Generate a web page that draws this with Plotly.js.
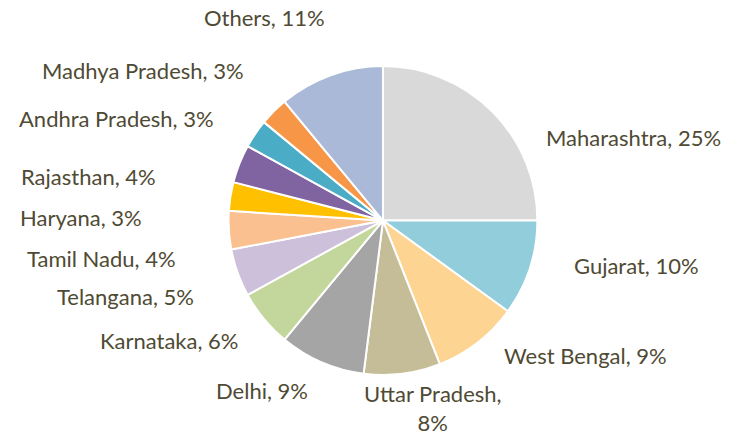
<!DOCTYPE html>
<html>
<head>
<meta charset="utf-8">
<script src="https://cdn.plot.ly/plotly-3.0.1.min.js"></script>
<style>html,body{margin:0;padding:0;background:#fff;}#chart{width:740px;height:435px;}</style>
</head>
<body>
<div id="chart"></div>
<script>
var states = ["Maharashtra","Gujarat","West Bengal","Uttar Pradesh","Delhi","Karnataka","Telangana","Tamil Nadu","Haryana","Rajasthan","Andhra Pradesh","Madhya Pradesh","Others"];
var shares = [25,10,9,8,9,6,5,4,3,4,3,3,11];
var colors = ["#D9D9D9","#92CDDC","#FDD491","#C4BD97","#A5A5A5","#C3D69B","#CCC0DA","#FAC090","#FFC000","#8064A2","#4BACC6","#F79646","#A9B9D7"];

// label placement (layout only): pixel anchor point and horizontal anchor per slice
var labelPx = [[545,137],[573,265],[503,355],[433,408],[309,390],[239,340],[195,296],[177,258],[143,218],[157,177],[215,118],[245,70],[326,17]];
var labelAnchor = ["left","left","left","center","right","right","right","right","right","right","right","right","right"];

var W = 740, H = 435;
var labelText = states.map(function(s,i){
  return s === "Uttar Pradesh" ? s + ",<br>" + shares[i] + "%" : s + ", " + shares[i] + "%";
});

var annotations = states.map(function(s,i){
  return {
    xref: "paper", yref: "paper",
    x: labelPx[i][0] / W, y: 1 - labelPx[i][1] / H,
    xanchor: labelAnchor[i], yanchor: "middle",
    text: labelText[i], showarrow: false, align: "center",
    borderpad: 0,
    font: {family: "Lato, 'Open Sans', sans-serif", size: 22, color: "#4F4A33"}
  };
});

var trace = {
  type: "pie",
  labels: states,
  values: shares,
  textinfo: "none",
  sort: false,
  direction: "clockwise",
  rotation: 0,
  marker: {colors: colors, line: {color: "#FFFFFF", width: 2}},
  domain: {x: [0.308, 0.727], y: [0.138, 0.848]},
  automargin: false,
  hoverinfo: "none"
};

Plotly.newPlot("chart", [trace], {
  width: W, height: H,
  margin: {l: 0, r: 0, t: 0, b: 0},
  showlegend: false,
  paper_bgcolor: "#FFFFFF",
  annotations: annotations
}, {staticPlot: true});
</script>
</body>
</html>
